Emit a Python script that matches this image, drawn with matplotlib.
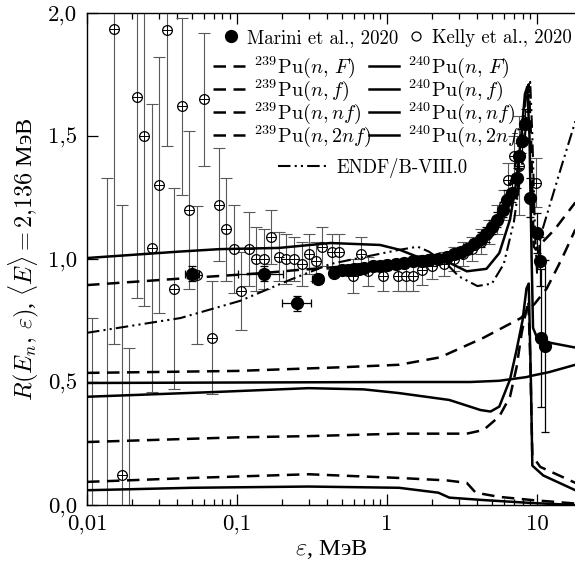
import matplotlib
matplotlib.use('Agg')
import matplotlib.pyplot as plt
from matplotlib.lines import Line2D
from matplotlib.ticker import NullFormatter, LogLocator

plt.rcParams['font.family'] = ['cmr10', 'Liberation Serif']
plt.rcParams['mathtext.fontset'] = 'cm'
plt.rcParams['axes.unicode_minus'] = False

# Kelly et al., 2020 (energy in MeV, ratio, error)
kelly_e = [0.0108, 0.0136, 0.0151, 0.0171, 0.0190, 0.0215, 0.0240, 0.0271, 0.0302, 0.0342,
           0.0380, 0.0429, 0.0478, 0.054, 0.060, 0.068, 0.076, 0.0845, 0.0954, 0.106,
           0.120, 0.134, 0.151, 0.169, 0.190, 0.213, 0.240, 0.270, 0.300, 0.336,
           0.370, 0.430, 0.480, 0.590, 0.670, 0.750, 0.940, 1.18, 1.33, 1.49,
           1.70, 2.0, 2.4, 2.8, 3.2, 3.7, 4.2, 4.8, 5.4, 6.0,
           6.4, 7.0, 7.6, 9.8]
kelly_r = [-0.45, -0.15, 1.935, 0.12, -0.5, 1.66, 1.50, 1.045, 1.30, 1.93,
           0.88, 1.62, 1.20, 0.935, 1.65, 0.68, 1.22, 1.12, 1.04, 0.87,
           1.04, 1.00, 1.00, 1.09, 1.01, 1.00, 1.00, 0.98, 1.02, 0.99,
           1.05, 1.03, 1.03, 0.93, 1.02, 0.95, 0.93, 0.93, 0.93, 0.93,
           0.955, 0.97, 0.98, 1.00, 1.02, 1.04, 1.07, 1.11, 1.16, 1.22,
           1.32, 1.42, 1.38, 1.31]
kelly_err = [1.21, 1.48, 1.28, 1.10, 1.14, 0.82, 0.69, 0.585, 0.52, 0.47,
             0.41, 0.36, 0.32, 0.28, 0.27, 0.23, 0.23, 0.21, 0.18, 0.16,
             0.15, 0.13, 0.12, 0.11, 0.10, 0.10, 0.09, 0.09, 0.08, 0.08,
             0.08, 0.07, 0.07, 0.07, 0.07, 0.06, 0.06, 0.06, 0.06, 0.06,
             0.06, 0.05, 0.05, 0.05, 0.05, 0.05, 0.05, 0.05, 0.06, 0.06,
             0.07, 0.08, 0.20, 0.10]

# Marini et al., 2020
marini_e = [0.050, 0.151, 0.25, 0.345, 0.44, 0.5, 0.55, 0.6, 0.65, 0.7,
            0.8, 0.9, 1.0, 1.15, 1.3, 1.5, 1.7, 1.9, 2.2, 2.5,
            2.8, 3.1, 3.4, 3.8, 4.2, 4.6, 5.0, 5.4, 5.9, 6.3,
            6.8, 7.3, 7.6, 7.9, 8.3, 9.0, 10.0, 10.5, 10.7, 11.3]
marini_r = [0.94, 0.94, 0.82, 0.92, 0.945, 0.955, 0.955, 0.96, 0.96, 0.965,
            0.97, 0.97, 0.975, 0.98, 0.985, 0.99, 0.99, 0.995, 1.0, 1.01,
            1.02, 1.03, 1.04, 1.06, 1.08, 1.10, 1.13, 1.16, 1.20, 1.24,
            1.27, 1.33, 1.42, 1.48, 1.55, 1.25, 1.105, 0.99, 0.68, 0.645]
marini_err = [0.03, 0.03, 0.03, 0.02, 0.02, 0.02, 0.02, 0.02, 0.02, 0.02,
              0.02, 0.02, 0.02, 0.02, 0.02, 0.02, 0.02, 0.02, 0.02, 0.02,
              0.02, 0.02, 0.02, 0.02, 0.03, 0.03, 0.03, 0.03, 0.03, 0.04,
              0.04, 0.04, 0.05, 0.05, 0.06, 0.08, 0.08, 0.10, 0.28, 0.35]
marini_xlo = [0.005, 0.05, 0.05, 0.03] + [0.0] * 36
marini_xhi = [0.006, 0.05, 0.06, 0.03] + [0.0] * 36

# model curves: 239Pu (dashed)
pu239_F_e = [0.01, 0.041, 0.15, 0.25, 0.45, 1.0, 1.5, 2.5, 3.5, 4.6, 5.8, 7.0, 8.0, 8.5, 8.8,
             9.1, 9.5, 9.8, 13.1, 18]
pu239_F_r = [0.894, 0.92, 0.943, 0.955, 0.967, 0.985, 1.0, 1.02, 1.05, 1.10, 1.20, 1.35, 1.55,
             1.68, 1.71, 1.5, 1.05, 1.04, 1.12, 1.23]
pu239_f_e = [0.01, 0.1, 0.5, 1.2, 2.25, 4.4, 7.8, 9.7, 11.6, 14.6, 18]
pu239_f_r = [0.537, 0.545, 0.56, 0.57, 0.60, 0.68, 0.76, 0.82, 0.88, 1.0, 1.12]
pu239_nf_e = [0.01, 0.1, 0.3, 1.2, 3.4, 4.4, 5.6, 6.6, 7.3, 7.9, 8.4, 8.75, 9.0, 9.3, 10.5, 18]
pu239_nf_r = [0.256, 0.275, 0.28, 0.29, 0.29, 0.305, 0.36, 0.44, 0.56, 0.70, 0.78, 0.83, 0.6,
              0.2, 0.155, 0.09]
pu239_2nf_e = [0.01, 0.05, 0.3, 1.2, 2.5, 3.4, 3.9, 5.6, 9.3, 18]
pu239_2nf_r = [0.094, 0.11, 0.125, 0.11, 0.10, 0.09, 0.05, 0.033, 0.02, 0.006]

# model curves: 240Pu (solid)
pu240_F_e = [0.01, 0.041, 0.076, 0.19, 0.42, 0.9, 1.22, 1.8, 2.5, 3.4, 4.6, 5.6, 6.6, 7.3,
             7.9, 8.3, 8.6, 8.9, 9.2, 9.4, 10.0, 12.1, 18]
pu240_F_r = [1.004, 1.03, 1.04, 1.045, 1.065, 1.057, 1.037, 0.996, 0.99, 0.95, 0.96, 1.024,
             1.16, 1.32, 1.52, 1.67, 1.70, 1.5, 1.0, 0.72, 0.68, 0.66, 0.64]
pu240_f_e = [0.01, 1.2, 3.6, 5.6, 8.5, 9.3, 12.0, 18]
pu240_f_r = [0.496, 0.50, 0.50, 0.505, 0.52, 0.526, 0.54, 0.57]
pu240_nf_e = [0.01, 0.076, 0.3, 0.7, 1.2, 2.6, 4.2, 4.9, 5.6, 6.6, 7.3, 8.0, 8.5, 8.8, 9.1,
              9.3, 11, 18]
pu240_nf_r = [0.44, 0.46, 0.475, 0.47, 0.455, 0.427, 0.386, 0.38, 0.40, 0.51, 0.63, 0.75,
              0.88, 0.9, 0.5, 0.16, 0.12, 0.06]
pu240_2nf_e = [0.01, 0.05, 0.3, 1.2, 2.2, 2.6, 4.4, 9.3, 18]
pu240_2nf_r = [0.06, 0.07, 0.075, 0.07, 0.05, 0.03, 0.02, 0.008, 0.0]

# ENDF/B-VIII.0
endf_e = [0.01, 0.042, 0.105, 0.225, 0.42, 1.2, 1.6, 1.9, 2.5, 3.0, 4.0, 5.0, 6.0, 7.0, 8.0,
          8.6, 9.0, 9.3, 9.7, 10.0, 10.5, 14.6, 18]
endf_r = [0.70, 0.76, 0.83, 0.915, 0.98, 1.037, 1.05, 1.03, 0.98, 0.93, 0.89, 0.90, 0.98,
          1.15, 1.40, 1.60, 1.72, 1.5, 1.1, 0.94, 1.09, 1.38, 1.56]

fig = plt.figure(figsize=(5.75, 5.68), dpi=100)
ax = fig.add_axes([87 / 575, 63 / 568, 488 / 575, 492 / 568])


def ax_xy(px, py):
    # pixel position in the figure -> axes fraction
    return ((px - 87) / 488, (505 - py) / 492)


dash = (0, (5, 3))
lw = 1.8

# data
ax.errorbar(kelly_e, kelly_r, yerr=kelly_err, fmt='none', ecolor='0.35', elinewidth=0.8,
            capsize=4, capthick=0.8, zorder=2)
ax.plot(kelly_e, kelly_r, ls='none', marker='o', ms=7, mfc='white', mec='k', mew=0.9, zorder=3)
ax.plot(kelly_e, kelly_r, ls='none', marker='+', ms=7, mec='k', mew=0.7, zorder=3)

l239F, = ax.plot(pu239_F_e, pu239_F_r, 'k', ls=dash, lw=lw, label=r'$^{239}$Pu$(n,\,F)$', zorder=4)
l239f, = ax.plot(pu239_f_e, pu239_f_r, 'k', ls=dash, lw=lw, label=r'$^{239}$Pu$(n,f)$', zorder=4)
l239nf, = ax.plot(pu239_nf_e, pu239_nf_r, 'k', ls=dash, lw=lw, label=r'$^{239}$Pu$(n,nf)$', zorder=4)
l2392nf, = ax.plot(pu239_2nf_e, pu239_2nf_r, 'k', ls=dash, lw=lw, label=r'$^{239}$Pu$(n,2nf)$', zorder=4)
l240F, = ax.plot(pu240_F_e, pu240_F_r, 'k', lw=lw, label=r'$^{240}$Pu$(n,\,F)$', zorder=4)
l240f, = ax.plot(pu240_f_e, pu240_f_r, 'k', lw=lw, label=r'$^{240}$Pu$(n,f)$', zorder=4)
l240nf, = ax.plot(pu240_nf_e, pu240_nf_r, 'k', lw=lw, label=r'$^{240}$Pu$(n,nf)$', zorder=4)
l2402nf, = ax.plot(pu240_2nf_e, pu240_2nf_r, 'k', lw=lw, label=r'$^{240}$Pu$(n,2nf)$', zorder=4)
lendf, = ax.plot(endf_e, endf_r, 'k', ls=(0, (6, 2, 1, 2, 1, 2)), lw=1.5, label='ENDF/B-VIII.0', zorder=4)

ax.errorbar(marini_e, marini_r, yerr=marini_err, xerr=[marini_xlo, marini_xhi], fmt='o', ms=8.5,
            color='k', ecolor='k', elinewidth=0.9, capsize=3, capthick=0.9, zorder=5)

ax.set_xscale('log')
ax.set_xlim(0.01, 17.9)
ax.set_ylim(0, 2.0)
ax.set_xticks([0.01, 0.1, 1, 10])
ax.set_xticklabels(['0,01', '0,1', '1', '10'])
ax.xaxis.set_minor_locator(LogLocator(base=10, subs=range(2, 10)))
ax.xaxis.set_minor_formatter(NullFormatter())
ax.set_yticks([0, 0.5, 1.0, 1.5, 2.0])
ax.set_yticklabels(['0,0', '0,5', '1,0', '1,5', '2,0'])
ax.tick_params(which='both', direction='in', top=True, right=False, labelsize=16.5, width=0.9)
ax.tick_params(which='major', length=8, pad=7)
ax.tick_params(which='minor', length=4)
ax.spines['right'].set_visible(False)
for s in ['left', 'top', 'bottom']:
    ax.spines[s].set_linewidth(1.0)

ax.set_xlabel(r'$\varepsilon$, МэВ', fontsize=17.5, labelpad=3, family=['Liberation Serif'])
ax.set_ylabel(r'$R(E_n,\,\varepsilon)$, $\langle E\rangle = 2{,}136$ МэВ', fontsize=17.5,
              labelpad=5, family=['Liberation Serif'])

fs = 13.5
fs_math = 14.5
common = dict(frameon=False, borderaxespad=0, borderpad=0)

h_marini = Line2D([], [], ls='none', marker='o', ms=8.5, color='k')
h_kelly = Line2D([], [], ls='none', marker='o', ms=6.5, mfc='none', mec='k', mew=0.9)
leg_m = ax.legend([h_marini], ['Marini et al., 2020'], loc='center left', fontsize=fs,
                  bbox_to_anchor=ax_xy(223, 38), handlelength=0.8, handletextpad=0.5, **common)
ax.add_artist(leg_m)
leg_k = ax.legend([h_kelly], ['Kelly et al., 2020'], loc='center left', fontsize=fs,
                  bbox_to_anchor=ax_xy(408, 38), handlelength=0.8, handletextpad=0.5, **common)
ax.add_artist(leg_k)
leg_a = ax.legend([l239F, l239f, l239nf, l2392nf], [l.get_label() for l in [l239F, l239f, l239nf, l2392nf]],
                  loc='upper left', bbox_to_anchor=ax_xy(213, 54), handlelength=1.6, fontsize=fs_math,
                  handletextpad=0.45, labelspacing=-0.12, **common)
ax.add_artist(leg_a)
leg_b = ax.legend([l240F, l240f, l240nf, l2402nf], [l.get_label() for l in [l240F, l240f, l240nf, l2402nf]],
                  loc='upper left', bbox_to_anchor=ax_xy(369, 54), handlelength=1.5, fontsize=fs_math,
                  handletextpad=0.45, labelspacing=-0.12, **common)
ax.add_artist(leg_b)
ax.legend([lendf], ['ENDF/B-VIII.0'], loc='center left', bbox_to_anchor=ax_xy(278, 168), fontsize=fs,
          handlelength=2.7, handletextpad=0.4, **common)

fig.savefig('out.png', dpi=100)
